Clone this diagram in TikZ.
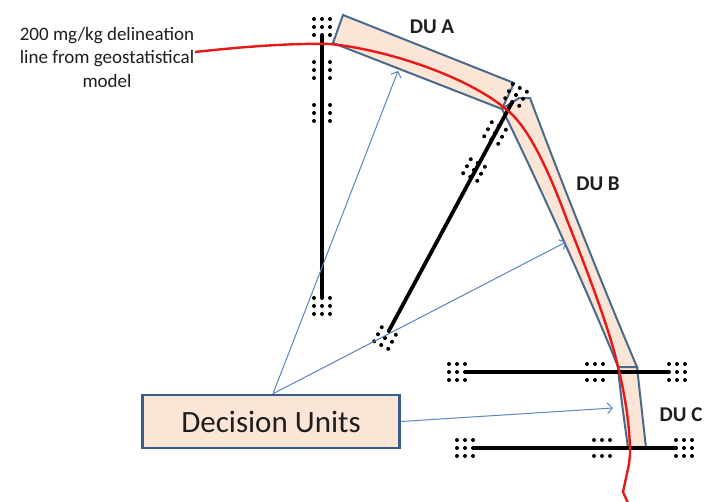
\documentclass[tikz,border=0pt]{standalone}
\usepackage{fontspec}
\setmainfont{Carlito}
\usetikzlibrary{arrows.meta}
\definecolor{peach}{HTML}{FBE5D6}
\definecolor{bandedge}{HTML}{4A6A8C}
\definecolor{boxedge}{HTML}{385D8A}
\definecolor{pointer}{HTML}{5A85C0}
\definecolor{delin}{HTML}{E81818}
\definecolor{ink}{HTML}{1E1E1E}
\tikzset{
  band/.style={fill=peach, draw=bandedge, line width=2pt, line join=miter},
  transect/.style={line width=3.8pt, black, shorten <=8pt, shorten >=8pt},
  delineation/.style={line width=2.4pt, delin, line join=round},
  pointerline/.style={line width=1pt, pointer, -{Straight Barb[length=5pt,width=11pt,line width=1pt]}},
  dubox/.style={fill=peach, draw=boxedge, line width=2.5pt, minimum width=257pt, minimum height=53pt, inner sep=0pt},
  dulabel/.style={font=\bfseries\fontsize{21}{24}\selectfont, text=ink},
  dotgrid/.pic={\foreach \i in {-1,0,1}\foreach \j in {-1,0,1}\fill[black] (\i*8,\j*8) circle[radius=2pt];}
}
\begin{document}
\begin{tikzpicture}[x=1pt,y=-1pt]
\useasboundingbox[fill=white] (0,0) rectangle (712,501);

% decision-unit bands along the delineation
\filldraw[band] (343,15) -- (514,83) -- (502,109) -- (333,43) -- cycle;
\filldraw[band] (502,109) -- (519,98) -- (530,98) .. controls (555,165) and (600,280) .. (637,367)
   -- (618,367) .. controls (604,330) and (540,185) .. (502,109) -- cycle;
\filldraw[band] (618,367) -- (637,367) -- (646,448) -- (628,448) .. controls (625,425) and (621,400) .. (618,367) -- cycle;

% sample grid positions
\coordinate (v1) at (322,27);  \coordinate (v2) at (322,70);
\coordinate (v3) at (322,113); \coordinate (v4) at (322,306);
\coordinate (d1) at (516,95);  \coordinate (d2) at (495,133);
\coordinate (d3) at (474,170); \coordinate (d4) at (385,338);
\coordinate (h1) at (457,372); \coordinate (h2) at (595,372); \coordinate (h3) at (677,372);
\coordinate (k1) at (465,448); \coordinate (k2) at (602,448); \coordinate (k3) at (684,448);

% transects
\draw[transect] (v1) -- (v4);
\draw[transect] (d4) -- (d1);
\draw[transect] (h1) -- (h3);
\draw[transect] (k1) -- (k3);

\foreach \g in {v1,v2,v3,v4,h1,h2,h3,k1,k2,k3} \pic at (\g) {dotgrid};
\foreach \g in {d1,d2,d3,d4} \pic[rotate=61.7] at (\g) {dotgrid};

% delineation line
\node[align=center, font=\fontsize{19}{23.5}\selectfont, text=ink] (note) at (107,57)
  {200 mg/kg delineation\\line from geostatistical\\model};
\coordinate (r0) at (195,52);
\draw[delineation] (r0) .. controls (240,47) and (290,43) .. (330,44)
  .. controls (390,50) and (470,78) .. (507,110)
  .. controls (525,124) and (545,160) .. (567,220)
  .. controls (585,265) and (610,330) .. (618,367)
  .. controls (625,395) and (630,425) .. (630,455)
  -- (629,464) -- (623,492) -- (628,503);

% unit labels
\node[dulabel] (duA) at (432,27) {DU A};
\node[dulabel] (duB) at (598,184) {DU B};
\node[dulabel] (duC) at (681,415) {DU C};

% legend box and pointers
\node[dubox, font=\fontsize{31}{36}\selectfont, text=ink] (box) at (271,421.5) {Decision Units};
\coordinate (tA) at (398,71);
\coordinate (tB) at (566,242);
\coordinate (tC) at (613,408);
\draw[pointerline] ([xshift=2pt]box.north) -- (tA);
\draw[pointerline] ([xshift=2pt]box.north) -- (tB);
\draw[pointerline] (box.east) -- (tC);
\end{tikzpicture}
\end{document}
